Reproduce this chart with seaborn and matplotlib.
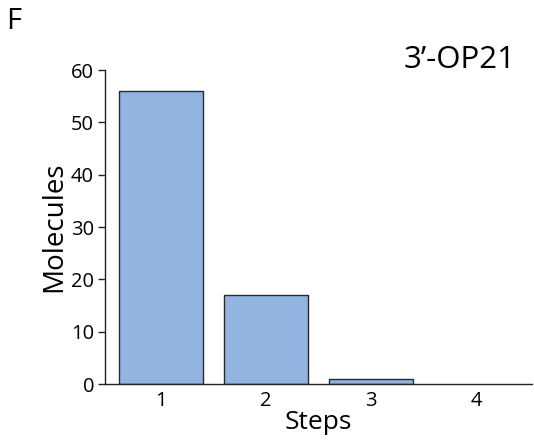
import matplotlib
matplotlib.use("Agg")
import matplotlib.pyplot as plt
import seaborn as sns
import pandas as pd

steps = ["1", "2", "3", "4"]
molecules = [56, 17, 1, 0]
yticks = [0, 10, 20, 30, 40, 50, 60]

sns.set_style("ticks")
plt.rcParams['font.family'] = ['Open Sans', 'DejaVu Sans']
plt.rcParams['text.color'] = 'black'
plt.rcParams['axes.labelcolor'] = 'black'
plt.rcParams['xtick.color'] = 'black'
plt.rcParams['ytick.color'] = 'black'

df = pd.DataFrame({"Steps": steps, "Molecules": molecules})

fig = plt.figure(figsize=(5.34, 4.41), dpi=100)
ax = fig.add_axes([0.197, 0.129, 0.799, 0.712])
sns.barplot(data=df, x="Steps", y="Molecules", color="#92B4E0", saturation=1,
            edgecolor="#2a2a2a", linewidth=1, width=0.8, ax=ax)
for p, v in zip(ax.patches, molecules):
    if v == 0:
        p.set_edgecolor("none")
ax.set_ylim(0, 60)
ax.set_xlim(-0.53, 3.53)
ax.set_yticks(yticks)
ax.tick_params(axis='y', labelsize=14.5, length=5, width=1, color="#222222", pad=3)
ax.tick_params(axis='x', labelsize=14.5, length=0, pad=5)
ax.set_xlabel("Steps", fontsize=19, labelpad=-1)
ax.set_ylabel("Molecules", fontsize=20, labelpad=2)
sns.despine(ax=ax)
for s in ["left", "bottom"]:
    ax.spines[s].set_color("#222222")
    ax.spines[s].set_linewidth(1)
fig.text(0.012, 0.985, "F", fontsize=21, va="top", ha="left")
fig.text(0.966, 0.865, "3’-OP21", fontsize=22.5, va="center", ha="right")
fig.savefig("out.png", dpi=100)
